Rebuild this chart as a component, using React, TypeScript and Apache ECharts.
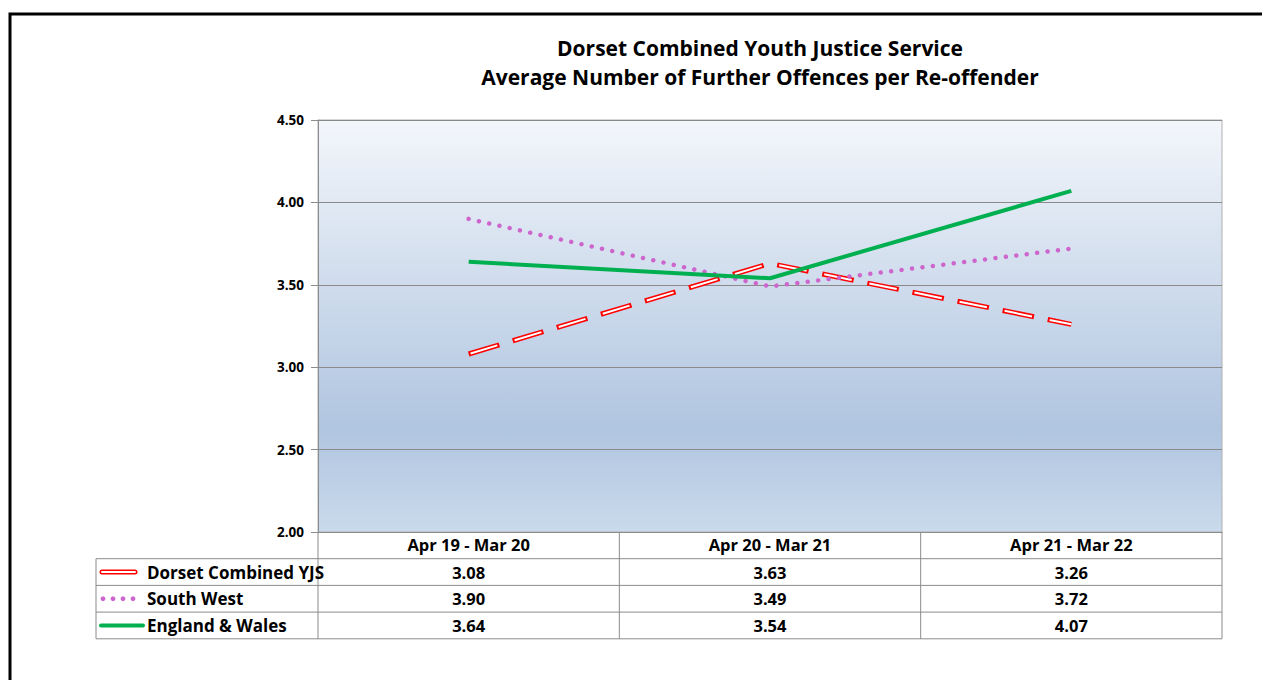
import React, { useEffect, useRef } from "react";
import * as echarts from "echarts";

const titleLines = ["Dorset Combined Youth Justice Service", "Average Number of Further Offences per Re-offender"];
const categories = ["Apr 19 - Mar 20", "Apr 20 - Mar 21", "Apr 21 - Mar 22"];
const seriesNames = ["Dorset Combined YJS", "South West", "England & Wales"];
const dorset = [3.08, 3.63, 3.26];
const southWest = [3.9, 3.49, 3.72];
const englandWales = [3.64, 3.54, 4.07];
const yTicks = { min: 2, max: 4.5, interval: 0.5 };

const FONT = "'Open Sans', Lato, sans-serif";

export default function App() {
  const ref = useRef<HTMLDivElement>(null);
  useEffect(() => {
    document.body.style.margin = "0";
    if (!ref.current) return;
    const chart = echarts.init(ref.current, undefined, { renderer: "svg" });
    const gl = 318, gt = 120, gw = 904, gh = 412;
    const colW = gw / 3;
    const rowH = 26.7;
    const tableLeft = 96;
    const tableTop = gt + gh; // 532
    const rowsTop = tableTop + rowH;
    const tableBottom = tableTop + rowH * 4;
    const lineColor = "#8c8c8c";
    const allSeries = [dorset, southWest, englandWales];

    const graphics: any[] = [];
    graphics.push({
      type: "rect",
      shape: { x: 10, y: 14, width: 1400, height: 900 },
      style: { fill: "none", stroke: "#000", lineWidth: 3 },
      silent: true,
    });
    const hLine = (y: number, x1: number, x2: number) =>
      graphics.push({ type: "line", shape: { x1, y1: y, x2, y2: y }, style: { stroke: lineColor, lineWidth: 1 } });
    const vLine = (x: number, y1: number, y2: number) =>
      graphics.push({ type: "line", shape: { x1: x, y1, x2: x, y2 }, style: { stroke: lineColor, lineWidth: 1 } });
    for (let r = 1; r <= 4; r++) hLine(tableTop + rowH * r, tableLeft, gl + gw);
    vLine(tableLeft, rowsTop, tableBottom);
    vLine(gl, tableTop, tableBottom);
    for (let c = 1; c <= 3; c++) vLine(gl + colW * c, tableTop, tableBottom);

    allSeries.forEach((vals, r) => {
      const cy = rowsTop + rowH * (r + 0.5);
      graphics.push({
        type: "text",
        style: { x: 147, y: cy, text: seriesNames[r], font: `bold 17px ${FONT}`, fill: "#000", verticalAlign: "middle", textAlign: "left" },
      });
      vals.forEach((v, c) => {
        graphics.push({
          type: "text",
          style: { x: gl + colW * (c + 0.5), y: cy, text: v.toFixed(2), font: `bold 16.5px ${FONT}`, fill: "#000", verticalAlign: "middle", textAlign: "center" },
        });
      });
      if (r === 0) {
        graphics.push({ type: "line", shape: { x1: 102, y1: cy, x2: 135, y2: cy }, style: { stroke: "#FF0000", lineWidth: 5, lineCap: "round" } });
        graphics.push({ type: "line", shape: { x1: 102, y1: cy, x2: 135, y2: cy }, style: { stroke: "#fff", lineWidth: 2, lineCap: "round" } });
      } else if (r === 1) {
        for (let i = 0; i < 4; i++)
          graphics.push({ type: "circle", shape: { cx: 103 + i * 10, cy, r: 2.4 }, style: { fill: "#CC66CC" } });
      } else {
        graphics.push({ type: "line", shape: { x1: 101, y1: cy, x2: 143, y2: cy }, style: { stroke: "#00B050", lineWidth: 4, lineCap: "round" } });
      }
    });

    chart.setOption({
      animation: false,
      title: {
        text: titleLines.join("\n"),
        left: 755,
        textAlign: "center",
        top: 28,
        textStyle: { fontFamily: FONT, fontWeight: "bold", fontSize: 21, lineHeight: 29, color: "#000" },
      },
      grid: {
        left: gl, top: gt, width: gw, height: gh,
        show: true,
        borderColor: "#b0b0b0",
        borderWidth: 1,
        backgroundColor: new echarts.graphic.LinearGradient(0, 0, 0, 1, [
          { offset: 0, color: "#F3F6FB" },
          { offset: 0.75, color: "#B0C5E0" },
          { offset: 1, color: "#CADAEC" },
        ]),
      },
      xAxis: {
        type: "category",
        data: categories,
        boundaryGap: true,
        axisLine: { show: true, lineStyle: { color: lineColor } },
        axisTick: { show: false },
        axisLabel: { margin: 4, fontFamily: FONT, fontWeight: "bold", fontSize: 16.5, color: "#000" },
        splitLine: { show: false },
      },
      yAxis: {
        type: "value",
        min: yTicks.min,
        max: yTicks.max,
        interval: yTicks.interval,
        axisLine: { show: true, lineStyle: { color: lineColor } },
        axisTick: { show: true, length: 7, lineStyle: { color: lineColor } },
        axisLabel: { margin: 14, fontFamily: FONT, fontWeight: "bold", fontSize: 13.5, color: "#000", formatter: (v: number) => v.toFixed(2) },
        splitLine: { show: true, lineStyle: { color: "#8a8a8a", width: 1 } },
      },
      series: [
        {
          name: seriesNames[0], type: "line", data: dorset, symbol: "none",
          lineStyle: { color: "#FF0000", width: 5, type: [32, 14], cap: "butt", join: "miter" },
          z: 3,
        },
        {
          name: seriesNames[0] + " inner", type: "line", data: dorset, symbol: "none",
          lineStyle: { color: "#FFFFFF", width: 2, type: [28, 18], dashOffset: -2, cap: "butt", join: "miter" },
          z: 4,
        },
        {
          name: seriesNames[1], type: "line", data: southWest, symbol: "none",
          lineStyle: { color: "#CC66CC", width: 4.5, type: [0.01, 10.5], cap: "round" },
          z: 5,
        },
        {
          name: seriesNames[2], type: "line", data: englandWales, symbol: "none",
          lineStyle: { color: "#00B050", width: 4 },
          z: 6,
        },
      ],
      graphic: graphics,
    });
    return () => chart.dispose();
  }, []);
  return <div ref={ref} style={{ position: "absolute", left: 0, top: 0, width: 1262, height: 680, background: "#fff" }} />;
}
